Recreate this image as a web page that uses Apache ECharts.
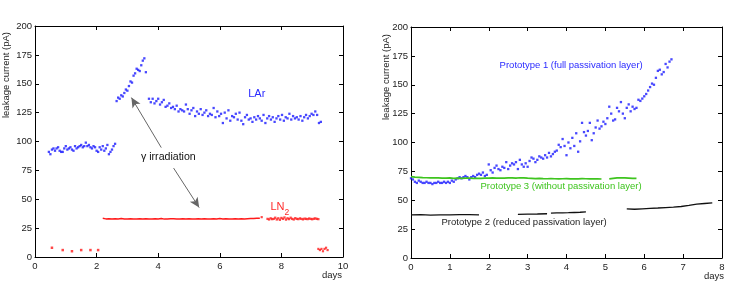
<!DOCTYPE html>
<html><head><meta charset="utf-8">
<script src="https://cdn.jsdelivr.net/npm/echarts@6/dist/echarts.min.js"></script>
<style>html,body{margin:0;padding:0;background:#fff}#c{width:747px;height:285px}</style>
</head><body><div id="c"></div>
<script>
// ---------- Left panel data (days, pA) ----------
// Regularly sampled segments: [start day, sampling step]
const larSeg1Time = [0.45, 0.05];
const larSeg1 = [91,89,93,94,92,94,95,92,91,91, 94,96,93,94,95,93,92,96,94,95, 96,97,95,96,99,96,97,95,94,96, 95,92,91,95,93,96,92,94,97,89, 91,93,96,98];
const larSeg2Time = [2.65, 0.05];
const larSeg2 = [135,138,137,140,139,142,145,144,148,152,151,157,159,163,162,161,166,170,172,160];
const larSeg3Time = [3.7, 0.06];
const larSeg3 = [137,134,137,133,135,137,132,134,136,130, 131,133,129,130,128,131,126,128,127,126,
  132,128,124,127,129,122,126,124,128,123, 125,127,122,124,123,129,121,126,122,124,
  116,125,120,127,118,122,121,124,119,125, 118,115,121,123,119,120,117,121,119,122,
  120,118,123,116,120,122,119,121,117,120, 122,119,123,118,121,120,124,119,122,120,
  121,119,122,118,121,123,120,122,124,123, 126,123,116,117];
const ln2LowX = [0.55,0.9,1.2,1.5,1.8,2.05];
const ln2LowY = [8,6,5,6,6,6];
const ln2MainTime = [2.2, 0.1];
const ln2Main = [33.5,33,33.2,32.8,33.1,33,33.3,32.9,33,33.2, 33,32.8,33.1,33,33.2,33,32.9,33.1,33,33.3,
  32.8,33,33.1,33.2,33,32.9,33.1,33,33.2,33, 32.9,33.1,33,33.2,33,32.8,33.1,33,33.3,33,
  33.1,33,32.9,33.2,33,33.1,33,33.2,33.4,33.3, 33.5,33.6];
const ln2DotX = [7.36];
const ln2DotY = [34.5];
const ln2LateTime = [7.55, 0.05];
const ln2Late = [33,32.5,33.5,32.8,33,34,32.5,33.5,32.2,33.8, 33,34.2,32.4,33.5,32.8,34,33,32.5,33.6,33,
  32.8,33.4,33,32.6,33.2,33,32.8,33.3,33,32.7, 33.1,33.4,33,32.8];
const ln2EndX = [9.2,9.25,9.3,9.35,9.4,9.45,9.5];
const ln2EndY = [7,6,7,5,7,8,6];

// ---------- Right panel data ----------
const proto1Time = [0, 0.05];
const proto1 = [69,68,66,65,67,66,65,65,66,65, 65,64,65,65,66,65,65,66,65,66,
  65,67,66,68,69,70,69,70,71,70, 68,70,71,70,72,73,72,74,71,72,
  81,76,74,78,80,77,76,79,78,83, 77,80,82,81,83,77,85,81,79,82,
  79,84,87,86,83,85,88,87,86,89, 87,91,88,90,92,93,98,96,103,97,
  89,100,95,104,97,108,92,101,117,109, 106,110,117,102,108,113,119,112,114,118,
  116,121,131,125,119,120,130,127,135,125, 121,130,133,127,131,129,130,137,136,138,
  140,142,145,148,151,150,156,162,163,159, 161,168,165,170,172];
const proto3aTime = [0, 0.1];
const proto3a = [70.5,70,69.8,69.6,69.5,69.4,69.3,69.3,69.2,69.2, 69.3,69,69.1,69,69.1,69.2,69,68.9,69,69.1,
  69.2,69.3,69.2,69.1,69.2,69.3,69.4,69.2,69.5,69.3, 69.1,69,68.8,68.9,68.7,68.6,68.8,68.6,68.5,68.6,
  68.7,68.5,68.6,68.5,68.7,68.6,68.5,68.6,68.5,68.4];
const proto3bTime = [5.1, 0.1];
const proto3b = [68.5,69,69.3,69.5,69.4,69.2,69,68.9];
const proto2aTime = [0, 0.25];
const proto2a = [37.3,37.5,37.2,37.3,37.4,37.5,37.6,37.4];
const proto2bTime = [2.75, 0.25];
const proto2b = [37.8,38,38.1,38.3];
const proto2cTime = [3.6, 0.15];
const proto2c = [38.8,39,39.1,39.2,39.4,39.6,40];
const proto2dTime = [5.55, 0.2];
const proto2d = [42.5,42.2,42.6,43,43.3,43.7,44.1,44.6,45.5,46.6,47.2,47.8];

// tick settings
const leftXTicks = [0, 10, 2];
const rightXTicks = [0, 8, 1];
const yTicks = [0, 200, 25];

function seg(tp, ys){ return ys.map((y,i)=>[+(tp[0]+i*tp[1]).toFixed(3), y]); }
function pairs(xs, ys){ return xs.map((x,i)=>[x, ys[i]]); }

const FONT = '"Liberation Sans", Arial, Helvetica, sans-serif';
const BLUE = '#1a1aff', RED = '#ff1a1a', GREEN = '#3ec41e', BLACK = '#111';

function ax(type, grid, pos, t, labels){
  return {type:'value', gridIndex:grid, position:pos, min:t[0], max:t[1], interval:t[2],
    axisLine:{show:true, onZero:false, lineStyle:{color:'#000', width:1}},
    axisTick:{show:true, inside:true, length:4, lineStyle:{color:'#000', width:1}},
    axisLabel:{show:labels, color:'#222', fontSize:9.5, fontFamily:FONT, margin:type==='x'?4:3},
    splitLine:{show:false}};
}
function sc(data, color, xi, size){
  return {type:'scatter', xAxisIndex:xi, yAxisIndex:xi, data, symbol:'rect', symbolSize:size||2.3,
    itemStyle:{color}, silent:true, animation:false};
}
function ln(data, color, xi, w){
  return {type:'line', xAxisIndex:xi, yAxisIndex:xi, data, showSymbol:false, symbol:'none',
    lineStyle:{color, width:w||1.6}, silent:true, animation:false};
}

const chart = echarts.init(document.getElementById('c'), null, {renderer:'canvas'});
const lar3 = sc(seg(larSeg3Time, larSeg3), BLUE, 0);
lar3.markLine = {silent:true, animation:false, symbol:['none','arrow'], symbolSize:[7,10],
  label:{show:false}, itemStyle:{color:'#000'}, lineStyle:{color:'#666', width:1, type:'solid'},
  data:[[{coord:[4.1,94.7]},{coord:[3.13,138]}], [{coord:[4.5,77]},{coord:[5.33,42.8]}]]};

chart.setOption({
  animation:false,
  grid:[{left:35, right:404, top:26, bottom:28}, {left:411, right:25, top:27, bottom:27}],
  xAxis:[ax('x',0,'bottom',leftXTicks,true), ax('x',0,'top',leftXTicks,false),
         ax('x',1,'bottom',rightXTicks,true), ax('x',1,'top',rightXTicks,false)],
  yAxis:[ax('y',0,'left',yTicks,true), ax('y',0,'right',yTicks,false),
         ax('y',1,'left',yTicks,true), ax('y',1,'right',yTicks,false)],
  series:[
    sc(seg(larSeg1Time, larSeg1), BLUE, 0),
    sc(seg(larSeg2Time, larSeg2), BLUE, 0),
    lar3,
    sc(pairs(ln2LowX, ln2LowY), RED, 0, 2.5),
    ln(seg(ln2MainTime, ln2Main), RED, 0, 1.5),
    sc(pairs(ln2DotX, ln2DotY), RED, 0, 2.2),
    sc(seg(ln2LateTime, ln2Late), RED, 0, 2.3),
    sc(pairs(ln2EndX, ln2EndY), RED, 0, 2.2),
    sc(seg(proto1Time, proto1), BLUE, 2),
    ln(seg(proto3aTime, proto3a), GREEN, 2, 1.7),
    ln(seg(proto3bTime, proto3b), GREEN, 2, 1.7),
    ln(seg(proto2aTime, proto2a), BLACK, 2, 1.3),
    ln(seg(proto2bTime, proto2b), BLACK, 2, 1.3),
    ln(seg(proto2cTime, proto2c), BLACK, 2, 1.3),
    ln(seg(proto2dTime, proto2d), BLACK, 2, 1.3)
  ]
});

function px(g, p){ return chart.convertToPixel({gridIndex:g}, p); }
function txt(p, text, color, size, extra){
  return Object.assign({type:'text', x:p[0], y:p[1], silent:true,
    style:Object.assign({text, fill:color, font:size+'px '+FONT, align:'center', verticalAlign:'middle'}, extra||{})});
}
const L0 = px(0,[10,0]), R0 = px(1,[8,0]);
const lnPos = px(0,[7.95,43]);
chart.setOption({graphic:[
  txt(px(0,[7.2,141]), 'LAr', '#2a2aff', 11),
  txt(px(0,[4.33,86.6]), 'γ irradiation', '#111', 10.6),
  {type:'text', x:lnPos[0], y:lnPos[1], silent:true,
   style:{text:'{a|LN}{b|2}', align:'center', verticalAlign:'middle',
     rich:{a:{fontSize:11, fontFamily:FONT, fill:'#ff2a2a', lineHeight:12},
           b:{fontSize:8.5, fontFamily:FONT, fill:'#ff2a2a', lineHeight:10, padding:[10,0,0,0]}}}},
  txt([L0[0]-1, L0[1]+18], 'days', '#222', 9.5, {align:'right'}),
  txt([R0[0]+2, R0[1]+18], 'days', '#222', 9.5, {align:'right'}),
  Object.assign(txt([6, 75], 'leakage current (pA)', '#222', 9.5), {rotation:Math.PI/2}),
  Object.assign(txt([386, 77], 'leakage current (pA)', '#222', 9.5), {rotation:Math.PI/2}),
  txt(px(1,[4.12,167]), 'Prototype 1 (full passivation layer)', '#2a2aff', 9.5),
  txt(px(1,[3.86,61.8]), 'Prototype 3 (without passivation layer)', '#3ec41e', 9.5),
  txt(px(1,[2.91,30.7]), 'Prototype 2 (reduced passivation layer)', '#222', 9.5)
]});
</script></body></html>
